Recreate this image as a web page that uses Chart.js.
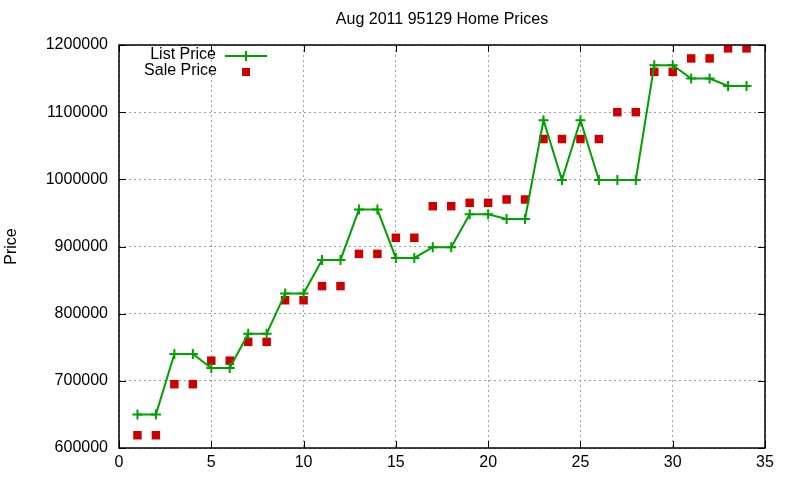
<!DOCTYPE html>
<html>
<head>
<meta charset="utf-8">
<script src="https://cdn.jsdelivr.net/npm/chart.js@4/dist/chart.umd.min.js"></script>
<style>
  html, body { margin: 0; padding: 0; background: #fff; }
  #wrap { width: 800px; height: 480px; }
</style>
</head>
<body>
<div id="wrap"><canvas id="chart" width="800" height="480"></canvas></div>
<script>
// data
const houses = [1, 2, 3, 4, 5, 6, 7, 8, 9, 10, 11, 12, 13, 14, 15, 16, 17,
  18, 19, 20, 21, 22, 23, 24, 25, 26, 27, 28, 29, 30, 31, 32, 33, 34];
const listPrice = [650000, 650000, 740000, 740000, 719000, 719000, 770000, 770000,
  830000, 830000, 880000, 880000, 955000, 955000, 883000, 883000, 899000, 899000,
  948000, 948000, 941000, 941000, 1088000, 999000, 1088000, 999000, 999000, 999000,
  1170000, 1170000, 1150000, 1150000, 1139000, 1139000];
const salePrice = [619000, 619000, 695000, 695000, 730000, 730000, 758000, 758000,
  820000, 820000, 841000, 841000, 889000, 889000, 913000, 913000, 960000, 960000,
  965000, 965000, 970000, 970000, 1060000, 1060000, 1060000, 1060000, 1100000, 1100000,
  1160000, 1160000, 1180000, 1180000, 1195000, 1195000];
const xTicks = [0, 5, 10, 15, 20, 25, 30, 35];
const yTicks = [600000, 700000, 800000, 900000, 1000000, 1100000, 1200000];

const FONT = '"Liberation Sans", Arial, sans-serif';
const GREEN = '#00a000';
const RED = '#cc0000';

// gnuplot style bits: title, inward ticks, frame and key
const gnuplotBits = {
  id: 'gnuplotBits',
  afterDraw(chart) {
    const ctx = chart.ctx;
    const a = chart.chartArea;
    const xs = chart.scales.x, ys = chart.scales.y;
    ctx.save();
    ctx.fillStyle = '#000';
    ctx.font = '16px ' + FONT;
    ctx.textAlign = 'center';
    ctx.textBaseline = 'middle';
    ctx.fillText('Aug 2011 95129 Home Prices', (a.left + a.right) / 2, 20);

    ctx.strokeStyle = '#000';
    ctx.lineWidth = 1;
    ctx.beginPath();
    xTicks.forEach(v => {
      const px = Math.round(xs.getPixelForValue(v)) + 0.5;
      ctx.moveTo(px, a.bottom); ctx.lineTo(px, a.bottom - 7);
      ctx.moveTo(px, a.top); ctx.lineTo(px, a.top + 7);
    });
    yTicks.forEach(v => {
      const py = Math.round(ys.getPixelForValue(v)) + 0.5;
      ctx.moveTo(a.left, py); ctx.lineTo(a.left + 7, py);
      ctx.moveTo(a.right, py); ctx.lineTo(a.right - 7, py);
    });
    ctx.stroke();
    ctx.lineWidth = 1.5;
    ctx.strokeRect(a.left, a.top, a.right - a.left, a.bottom - a.top);

    // key
    ctx.textAlign = 'right';
    ctx.fillStyle = '#000';
    ctx.fillText('List Price', 216, 55);
    ctx.fillText('Sale Price', 217, 71);
    ctx.strokeStyle = GREEN;
    ctx.lineWidth = 2;
    ctx.beginPath();
    ctx.moveTo(225, 56); ctx.lineTo(267, 56);
    ctx.moveTo(246, 51); ctx.lineTo(246, 61);
    ctx.stroke();
    ctx.fillStyle = RED;
    ctx.fillRect(242, 68, 8, 8);
    ctx.restore();
  }
};

new Chart(document.getElementById('chart'), {
  type: 'scatter',
  data: {
    datasets: [{
      label: 'List Price',
      data: houses.map((h, i) => ({ x: h, y: listPrice[i] })),
      showLine: true,
      borderColor: GREEN,
      backgroundColor: GREEN,
      borderWidth: 2,
      pointStyle: 'cross',
      pointRadius: 5,
      pointBorderWidth: 2,
      order: 1
    }, {
      label: 'Sale Price',
      data: houses.map((h, i) => ({ x: h, y: salePrice[i] })),
      borderColor: RED,
      backgroundColor: RED,
      pointStyle: 'rect',
      pointRadius: 6,
      pointBorderWidth: 0,
      order: 2
    }]
  },
  options: {
    responsive: false,
    animation: false,
    layout: { padding: { top: 45, right: 35, left: 0, bottom: 0 } },
    plugins: {
      legend: { display: false },
      title: { display: false },
      tooltip: { enabled: false }
    },
    scales: {
      x: {
        type: 'linear',
        min: 0, max: 35,
        afterFit(s) { s.height = 32; },
        afterBuildTicks(s) { s.ticks = xTicks.map(v => ({ value: v })); },
        ticks: { color: '#000', font: { family: FONT, size: 16 }, padding: 5, maxRotation: 0 },
        grid: { color: '#a0a0a0', drawTicks: false },
        border: { display: false, dash: [2, 3] }
      },
      y: {
        min: 600000, max: 1200000,
        afterFit(s) { s.width = 119; },
        afterBuildTicks(s) { s.ticks = yTicks.map(v => ({ value: v })); },
        ticks: {
          color: '#000', font: { family: FONT, size: 16 }, padding: 11,
          callback: v => String(v)
        },
        grid: { color: '#a0a0a0', drawTicks: false },
        border: { display: false, dash: [2, 3] },
        title: { display: true, text: 'Price', color: '#000', font: { family: FONT, size: 16 }, padding: 2 }
      }
    }
  },
  plugins: [gnuplotBits]
});
</script>
</body>
</html>
